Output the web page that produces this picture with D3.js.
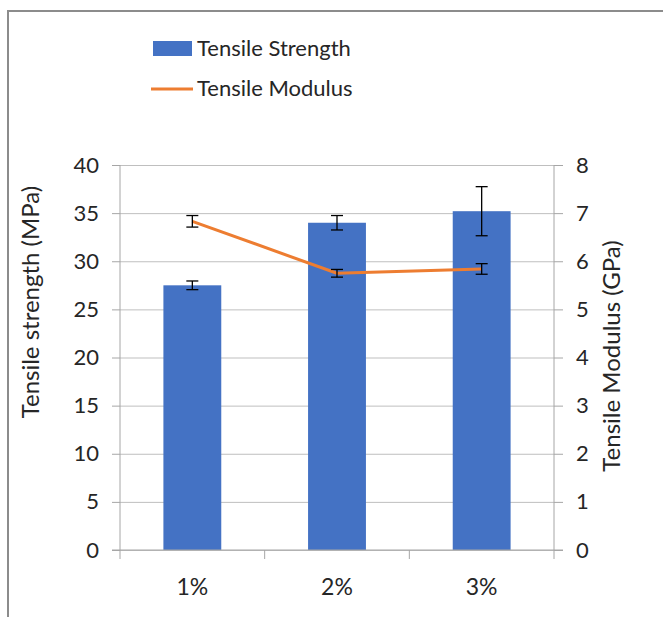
<!DOCTYPE html>
<html>
<head>
<meta charset="utf-8">
<script src="https://cdn.jsdelivr.net/npm/d3@7"></script>
<style>
  html, body { margin: 0; padding: 0; background: #fff; }
  svg { display: block; }
  text { font-family: Lato, "Open Sans", sans-serif; fill: #262626; }
</style>
</head>
<body>
<svg id="chart" width="663" height="617"></svg>
<script>
// ---- data ----
const categories = ["1%", "2%", "3%"];
const strength = [27.5, 34.0, 35.2];          // MPa
const strengthErr = [0.45, 0.75, 2.55];
const modulus = [6.83, 5.75, 5.84];           // GPa
const modulusErr = [0.12, 0.08, 0.11];
const leftTicks = [0, 5, 10, 15, 20, 25, 30, 35, 40];
const rightTicks = [0, 1, 2, 3, 4, 5, 6, 7, 8];
const seriesNames = ["Tensile Strength", "Tensile Modulus"];

const svg = d3.select("#chart");
const plot = { left: 120, right: 554, top: 165, bottom: 550 };
const BLUE = "#4472C4", ORANGE = "#ED7D31", AXIS = "#a6a6a6", GRID = "#bfbfbf";

// outer frame (cropped on right/bottom)
svg.append("rect").attr("x", 8).attr("y", 11).attr("width", 700).attr("height", 700)
  .attr("fill", "none").attr("stroke", "#8c8c8c").attr("stroke-width", 2);

const x = d3.scaleBand().domain(categories).range([plot.left, plot.right])
  .paddingInner(0.6).paddingOuter(0.3);
const xCat = d3.scaleBand().domain(categories).range([plot.left, plot.right]).padding(0);
const yL = d3.scaleLinear().domain([0, 40]).range([plot.bottom, plot.top]);
const yR = d3.scaleLinear().domain([0, 8]).range([plot.bottom, plot.top]);

// gridlines with left ticks
const gL = svg.append("g").attr("transform", `translate(${plot.left},0)`)
  .call(d3.axisLeft(yL).tickValues(leftTicks).tickSize(8).tickPadding(13));
gL.selectAll(".tick line").attr("stroke", AXIS);
gL.selectAll(".tick").append("line").attr("x1", 0).attr("x2", plot.right - plot.left)
  .attr("stroke", GRID);
gL.selectAll(".tick text").attr("font-size", 22).attr("font-family", "Lato").attr("fill", "#262626");
gL.select(".domain").remove();
svg.append("line").attr("x1", plot.left).attr("x2", plot.left)
  .attr("y1", plot.top).attr("y2", plot.bottom).attr("stroke", AXIS);

// right axis
const gR = svg.append("g").attr("transform", `translate(${plot.right},0)`)
  .call(d3.axisRight(yR).tickValues(rightTicks).tickSize(9).tickPadding(13));
gR.select(".domain").remove();
gR.selectAll(".tick line").attr("stroke", AXIS);
gR.selectAll(".tick text").attr("font-size", 22).attr("font-family", "Lato").attr("fill", "#262626");
svg.append("line").attr("x1", plot.right).attr("x2", plot.right)
  .attr("y1", plot.top).attr("y2", plot.bottom).attr("stroke", AXIS);

// bars
svg.append("g").selectAll("rect").data(categories).join("rect")
  .attr("x", d => x(d)).attr("width", x.bandwidth())
  .attr("y", (d, i) => yL(strength[i]))
  .attr("height", (d, i) => yL(0) - yL(strength[i]))
  .attr("fill", BLUE);

// x axis
const gX = svg.append("g").attr("transform", `translate(0,${plot.bottom})`);
gX.append("line").attr("x1", plot.left - 8).attr("x2", plot.right + 9)
  .attr("stroke", AXIS);
const bounds = categories.map(c => xCat(c)).concat([xCat(categories[categories.length - 1]) + xCat.bandwidth()]);
gX.selectAll("line.tk").data(bounds).join("line").attr("class", "tk")
  .attr("x1", d => d).attr("x2", d => d).attr("y1", 0).attr("y2", 9).attr("stroke", AXIS);
gX.selectAll("text").data(categories).join("text")
  .attr("x", d => xCat(d) + xCat.bandwidth() / 2).attr("y", 37)
  .attr("dy", "0.35em").attr("text-anchor", "middle").attr("font-size", 23)
  .text(d => d);

// error bars helper
function errBars(vals, errs, scale) {
  const g = svg.append("g").attr("stroke", "#000").attr("stroke-width", 1.3);
  categories.forEach((c, i) => {
    const cx = x(c) + x.bandwidth() / 2;
    const y1 = scale(vals[i] + errs[i]), y2 = scale(vals[i] - errs[i]);
    g.append("line").attr("x1", cx).attr("x2", cx).attr("y1", y1).attr("y2", y2);
    g.append("line").attr("x1", cx - 6).attr("x2", cx + 6).attr("y1", y1).attr("y2", y1);
    g.append("line").attr("x1", cx - 6).attr("x2", cx + 6).attr("y1", y2).attr("y2", y2);
  });
}
errBars(strength, strengthErr, yL);

// modulus line
const line = d3.line().x((d, i) => x(categories[i]) + x.bandwidth() / 2).y(d => yR(d));
svg.append("path").datum(modulus).attr("d", line)
  .attr("fill", "none").attr("stroke", ORANGE).attr("stroke-width", 3)
  .attr("stroke-linejoin", "round");
errBars(modulus, modulusErr, yR);

// axis titles
svg.append("text").attr("transform", "translate(39,302) rotate(-90)")
  .attr("text-anchor", "middle").attr("font-size", 24).text("Tensile strength (MPa)");
svg.append("text").attr("transform", "translate(620,356) rotate(-90)")
  .attr("text-anchor", "middle").attr("font-size", 24).text("Tensile Modulus (GPa)");

// legend
const lg = svg.append("g");
lg.append("rect").attr("x", 153).attr("y", 41).attr("width", 39).attr("height", 15).attr("fill", BLUE);
lg.append("text").attr("x", 197).attr("y", 48).attr("dy", "0.35em").attr("font-size", 22).text(seriesNames[0]);
lg.append("line").attr("x1", 151).attr("x2", 193).attr("y1", 89).attr("y2", 89)
  .attr("stroke", ORANGE).attr("stroke-width", 3);
lg.append("text").attr("x", 197).attr("y", 88).attr("dy", "0.35em").attr("font-size", 22).text(seriesNames[1]);
</script>
</body>
</html>
